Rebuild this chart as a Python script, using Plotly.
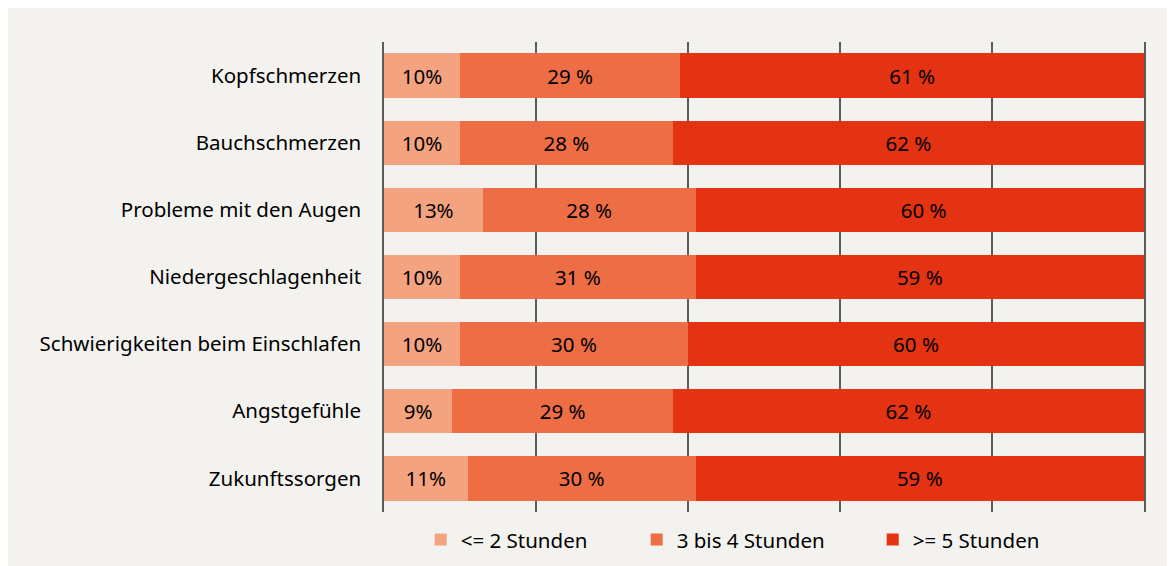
import plotly.graph_objects as go

categories = ["Kopfschmerzen", "Bauchschmerzen", "Probleme mit den Augen",
              "Niedergeschlagenheit", "Schwierigkeiten beim Einschlafen",
              "Angstgefühle", "Zukunftssorgen"]
series_names = ["<= 2 Stunden", "3 bis 4 Stunden", ">= 5 Stunden"]
low = [10, 10, 13, 10, 10, 9, 11]
mid = [29, 28, 28, 31, 30, 29, 30]
high = [61, 62, 60, 59, 60, 62, 59]
colors = ["#F4A380", "#ED6D45", "#E43312"]
FONT = "Noto Sans"
FS = 20.5

W, H = 1175, 566
L, R, T, B = 376, 39, 34, 62
pw, ph = W - L - R, H - T - B

legend_ids = ["legend", "legend2", "legend3"]
legend_text_px = [452.7, 668.7, 904.7]

fig = go.Figure()
for i, (name, vals, col) in enumerate(zip(series_names, [low, mid, high], colors)):
    texts = [f"{v}%" if i == 0 else f"{v} %" for v in vals]
    fig.add_trace(go.Bar(
        y=categories, x=vals, name=name, orientation="h",
        marker=dict(color=col, line=dict(width=0)),
        text=texts, textposition="inside", insidetextanchor="middle",
        textfont=dict(color="black", size=FS, family=FONT),
        hoverinfo="skip", legend=legend_ids[i], showlegend=True,
    ))

legend_y = (ph - (531.7 - T)) / ph
legends = {}
for lid, tx in zip(legend_ids, legend_text_px):
    legends[lid] = dict(orientation="h", x=(tx - 40 - L) / pw, xanchor="left",
                        y=legend_y, yanchor="middle",
                        font=dict(size=FS, family=FONT, color="black"),
                        itemwidth=30, bgcolor="rgba(0,0,0,0)", borderwidth=0)

fig.update_layout(
    width=W, height=H, barmode="stack", bargap=0.34, showlegend=True,
    margin=dict(l=L, r=R, t=T, b=B, pad=0, autoexpand=False),
    paper_bgcolor="#F3F2EE", plot_bgcolor="#F3F2EE",
    font=dict(family=FONT, size=FS, color="black"),
    xaxis=dict(range=[0, 100], dtick=20, showgrid=True, gridcolor="#5A5A5A",
               gridwidth=1.5, showticklabels=False, zeroline=False,
               showline=False, fixedrange=True, automargin=False),
    yaxis=dict(autorange="reversed", showgrid=False, ticks="",
               ticklabelstandoff=17, automargin=False,
               showline=True, mirror=True, linecolor="#5A5A5A", linewidth=1.5,
               tickfont=dict(size=FS, family=FONT)),
    uniformtext=dict(mode="show", minsize=FS),
    **legends,
)
fig.write_html("out.html")
